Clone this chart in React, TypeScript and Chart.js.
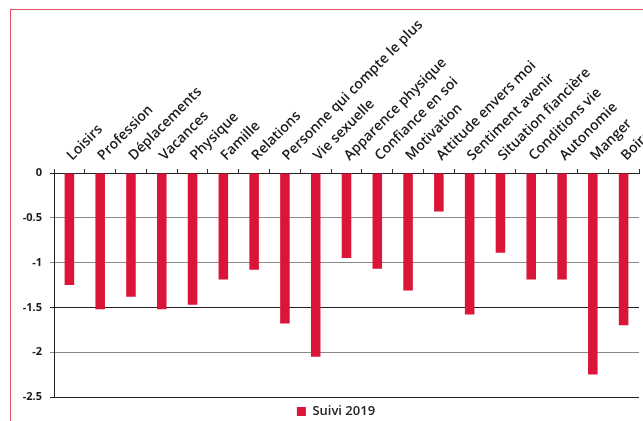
import React, { useEffect, useRef } from "react";
import { Chart, registerables } from "chart.js";

Chart.register(...registerables);

const categories = [
  "Loisirs",
  "Profession",
  "Déplacements",
  "Vacances",
  "Physique",
  "Famille",
  "Relations",
  "Personne qui compte le plus",
  "Vie sexuelle",
  "Apparence physique",
  "Confiance en soi",
  "Motivation",
  "Attitude envers moi",
  "Sentiment avenir",
  "Situation fiancière",
  "Conditions vie",
  "Autonomie",
  "Manger",
  "Boire",
];

const suivi2019 = [
  -1.25, -1.52, -1.38, -1.52, -1.47, -1.19, -1.08, -1.68, -2.05, -0.95,
  -1.07, -1.31, -0.43, -1.58, -0.89, -1.19, -1.19, -2.25, -1.7,
];

const seriesLabel = "Suivi 2019";
const yMin = -2.5;
const yMax = 0;
const yStep = 0.5;
const darkGridValues = [0, -1.5, -2.5];

const FONT = "'Open Sans', 'DejaVu Sans', sans-serif";

const legendShift = {
  id: "legendShift",
  beforeDraw(chart: any) {
    const lg = chart.legend;
    if (lg) {
      const right = lg.right;
      lg.left = 33;
      lg.width = right - 33;
    }
  },
};

export default function App() {
  const ref = useRef<HTMLCanvasElement>(null);

  useEffect(() => {
    const chart = new Chart(ref.current as HTMLCanvasElement, {
      type: "bar",
      data: {
        labels: categories,
        datasets: [
          {
            label: seriesLabel,
            data: suivi2019,
            backgroundColor: "#da1538",
            borderWidth: 0,
            barPercentage: 0.31,
            categoryPercentage: 1,
          },
        ],
      },
      plugins: [legendShift],
      options: {
        animation: false,
        responsive: false,
        maintainAspectRatio: false,
        layout: { padding: { left: 0, right: 4, top: 0, bottom: 0 } },
        plugins: {
          legend: {
            position: "bottom",
            labels: {
              boxWidth: 9,
              boxHeight: 9,
              padding: 8,
              color: "#222",
              font: { family: FONT, size: 13, weight: "600" },
            },
          },
          tooltip: { enabled: false },
        },
        scales: {
          x: {
            position: "top",
            offset: true,
            grid: {
              offset: true,
              drawOnChartArea: false,
              tickLength: 4,
              color: "#333",
            },
            border: { color: "#222" },
            ticks: {
              autoSkip: false,
              minRotation: 45,
              maxRotation: 45,
              padding: 5,
              labelOffset: 12,
              color: "#1a1a1a",
              font: { family: FONT, size: 14, weight: "600" },
            },
            afterFit: (s: any) => {
              s.height = 173;
              s.paddingLeft = 0;
              s.paddingRight = 0;
            },
          },
          y: {
            min: yMin,
            max: yMax,
            ticks: {
              stepSize: yStep,
              padding: 8,
              color: "#1a1a1a",
              font: { family: FONT, size: 11, weight: "bold" },
              callback: (v: any) => String(Number(v)),
            },
            grid: {
              tickLength: 4,
              color: (ctx: any) =>
                ctx.tick && darkGridValues.includes(ctx.tick.value) ? "#222" : "#8a8a8a",
            },
            border: { color: "#222" },
            afterFit: (s: any) => {
              s.width = 54;
            },
          },
        },
      },
    } as any);
    return () => chart.destroy();
  }, []);

  return (
    <div
      style={{
        position: "fixed",
        left: 0,
        top: 0,
        width: 643,
        height: 421,
        overflow: "hidden",
        background: "#fff",
      }}
    >
      <canvas
        ref={ref}
        width={643}
        height={428}
        style={{ position: "absolute", left: 0, top: 0, width: 643, height: 428 }}
      />
      <div
        style={{
          position: "absolute",
          left: 10,
          top: 9,
          width: 700,
          height: 500,
          borderLeft: "1.5px solid #e25068",
          borderTop: "1.5px solid #e25068",
          pointerEvents: "none",
        }}
      />
    </div>
  );
}
